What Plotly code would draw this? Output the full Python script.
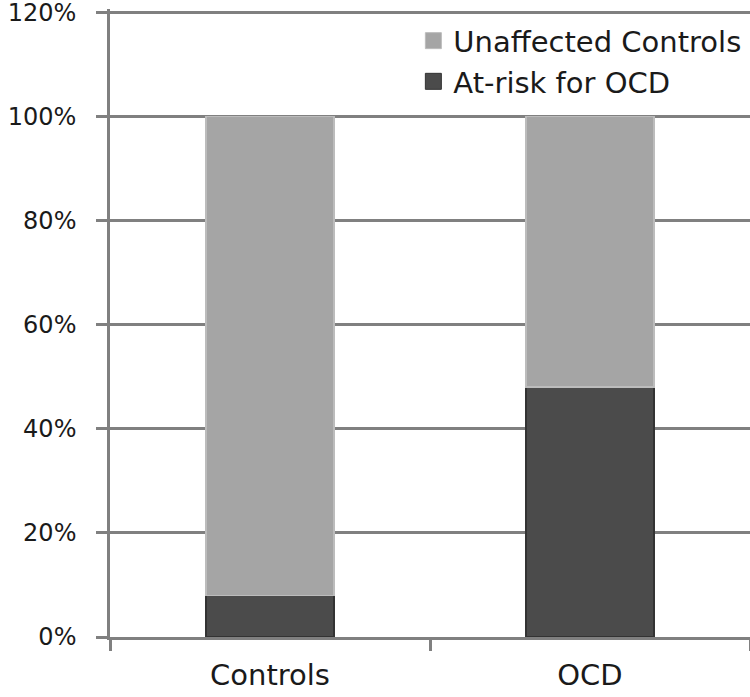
import plotly.graph_objects as go

categories = ["Controls", "OCD"]
at_risk = [8, 48]
unaffected = [92, 52]
tick_vals = [0, 20, 40, 60, 80, 100, 120]
tick_text = ["0%", "20%", "40%", "60%", "80%", "100%", "120%"]

FONT = "DejaVu Sans, sans-serif"
GRID = "#808080"
DARK = "#4b4b4b"
LIGHT = "#a5a5a5"

fig = go.Figure()
fig.add_trace(go.Bar(
    x=categories, y=at_risk, name="At-risk for OCD", showlegend=False,
    marker=dict(color=DARK, line=dict(color="#333333", width=1.5)),
))
fig.add_trace(go.Bar(
    x=categories, y=unaffected, name="Unaffected Controls", showlegend=False,
    marker=dict(color=LIGHT, line=dict(color="#bcbcbc", width=1.5)),
))
# legend entries (no visible marks)
fig.add_trace(go.Scatter(
    x=[None], y=[None], mode="markers", name="Unaffected Controls",
    legendgroup="a",
    marker=dict(symbol="square", size=17, color=LIGHT, line=dict(color="#bcbcbc", width=1)),
))
fig.add_trace(go.Scatter(
    x=[None], y=[None], mode="markers", name="At-risk for OCD",
    legendgroup="b",
    marker=dict(symbol="square", size=17, color=DARK, line=dict(color="#333333", width=1)),
))

fig.update_layout(
    width=750, height=697,
    barmode="stack", bargap=0.6,
    plot_bgcolor="white", paper_bgcolor="white",
    margin=dict(l=110, r=0, t=9, b=60),
    font=dict(family=FONT, size=26, color="#1a1a1a"),
    showlegend=True,
    legend=dict(
        x=0.474, y=0.99, xanchor="left", yanchor="top",
        traceorder="grouped", bgcolor="rgba(255,255,255,0)",
        font=dict(family=FONT, size=29, color="#1a1a1a"),
        itemsizing="trace", tracegroupgap=0,
    ),
    xaxis=dict(
        showline=True, linecolor=GRID, linewidth=2.5,
        ticks="outside", ticklen=11, tickcolor=GRID, tickwidth=2.5,
        tickson="boundaries", showgrid=False, automargin=False,
        ticklabelstandoff=10, ticklabeloverflow="allow",
        tickfont=dict(family=FONT, size=29, color="#1a1a1a"),
    ),
    yaxis=dict(
        range=[0, 120.6], tickvals=tick_vals, ticktext=tick_text,
        showline=True, linecolor=GRID, linewidth=2.5,
        ticks="outside", ticklen=11, tickcolor=GRID, tickwidth=2.5,
        showgrid=True, gridcolor=GRID, gridwidth=2.5, zeroline=False,
        automargin=False, ticklabelstandoff=15, ticklabeloverflow="allow",
        tickfont=dict(family=FONT, size=24, color="#1a1a1a"),
    ),
)

fig.write_html(
    "out.html",
    config={"displayModeBar": False},
    post_script="document.body.style.margin='0';",
)
